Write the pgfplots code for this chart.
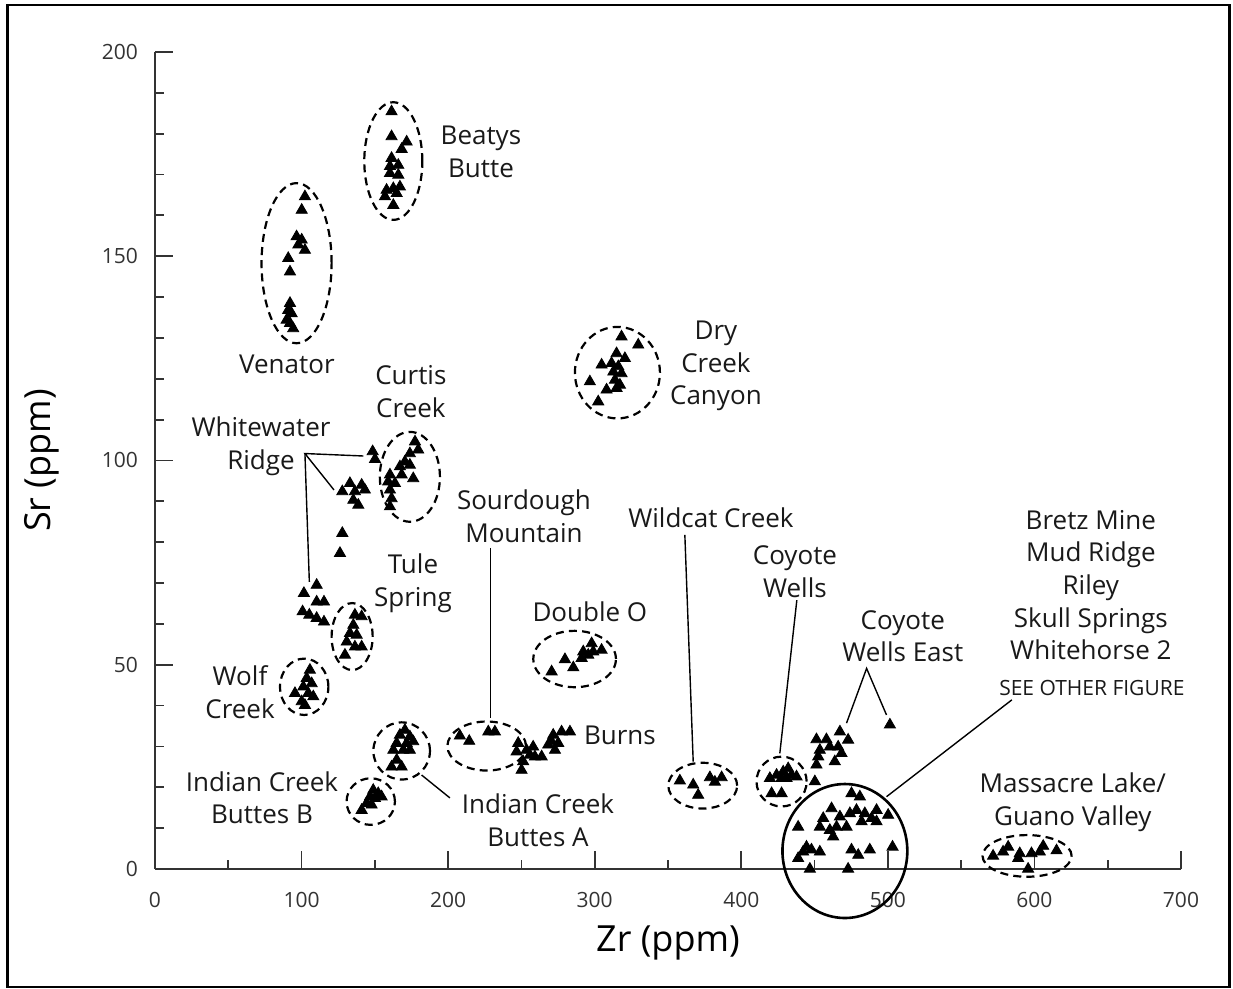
\documentclass[border=0pt]{standalone}
\usepackage{fontspec}
\setmainfont{Open Sans}
\usepackage{pgfplots}
\pgfplotsset{compat=1.18}

\tikzset{
  lab/.style={align=center, inner sep=0pt, text=black!90,
    font=\fontsize{13pt}{16.3pt}\selectfont},
  grp/.style={dashed, dash pattern=on 4pt off 2.6pt, line width=1.1pt},
  lead/.style={line width=0.7pt},
}
\pgfplotsset{tri/.style={only marks, mark=triangle*, mark size=3.2pt, black}}

\begin{document}
\begin{tikzpicture}
\useasboundingbox (-77.5pt,-60pt) rectangle (539pt,434.5pt);
\draw[line width=1.1pt] (-73.75pt,-59pt) rectangle (537.25pt,432pt);
\draw[line width=1.6pt] (-73.75pt,-59pt) -- (-73.75pt,432pt);
\begin{axis}[
    at={(0pt,0pt)}, anchor=origin,
    scale only axis, width=513pt, height=408.5pt,
    xmin=0, xmax=700, ymin=0, ymax=200,
    axis lines*=left, axis line style={line width=1pt, black!80},
    clip=false,
    xtick={0,100,...,700}, minor xtick={50,150,...,650},
    ytick={0,50,...,200}, minor ytick={0,10,...,200},
    tick align=inside, tick style={line width=0.9pt, black!80},
    major tick length=9pt, minor tick length=4.5pt,
    /pgf/number format/assume math mode=true,
    ticklabel style={font=\fontsize{10.5pt}{12pt}\selectfont, text=black!80},
    xticklabel style={yshift=-8pt},
    yticklabel style={xshift=-5pt},
    xlabel={Zr (ppm)}, ylabel={Sr (ppm)},
    every axis x label/.style={at={(axis cs:350,-18.1)}, anchor=center,
      font=\fontsize{18pt}{20pt}\selectfont},
    every axis y label/.style={at={(axis cs:-77,100)}, anchor=center, rotate=90,
      font=\fontsize{18pt}{20pt}\selectfont},
  ]

% Beatys Butte
\addplot[tri] table {
x y
161.4 185.4
161.4 179.3
171.7 178.0
168.3 176.2
161.4 174.0
160.3 172.0
166.0 172.3
160.3 170.3
166.0 169.9
158.0 166.2
162.6 166.6
167.1 167.0
156.9 164.6
162.6 162.5
164.9 165.4
};
% Venator
\addplot[tri] table {
x y
102.3 164.6
100.1 161.3
96.6 154.8
100.1 154.0
97.8 152.8
102.3 151.5
90.9 149.5
92.1 146.2
92.1 138.5
90.9 136.8
93.2 136.0
89.8 134.4
92.1 133.6
94.3 132.3
};
% Whitewater Ridge
\addplot[tri] table {
x y
148.5 102.2
150.1 100.3
127.8 92.4
133.0 94.4
136.4 92.4
141.0 94.0
143.2 92.8
135.3 90.3
138.7 89.1
127.8 82.2
126.2 77.3
110.3 69.5
101.6 67.5
110.3 65.4
115.3 65.4
100.7 63.0
105.3 62.2
110.3 61.4
115.3 60.5
};
% Curtis Creek
\addplot[tri] table {
x y
177.4 104.6
179.6 102.6
173.9 101.7
170.5 99.7
167.1 98.5
173.9 98.9
168.3 96.5
176.2 95.6
160.3 96.5
159.1 94.8
163.7 94.4
160.3 92.8
161.4 90.7
160.3 88.7
};
% Tule Spring
\addplot[tri] table {
x y
136.4 62.2
141.0 61.8
135.3 59.7
133.0 57.7
137.6 57.3
130.8 55.6
136.4 54.4
141.0 54.4
129.6 52.4
};
% Wolf Creek
\addplot[tri] table {
x y
105.7 48.7
103.5 46.7
106.9 45.4
101.2 44.6
95.5 43.0
104.6 43.0
108.0 42.2
100.1 41.0
102.3 40.1
};
% Dry Creek Canyon
\addplot[tri] table {
x y
318.3 130.3
329.7 128.3
314.9 126.2
320.6 125.0
304.7 123.4
311.5 123.8
316.1 123.0
312.7 121.7
318.3 121.3
296.7 119.3
313.8 119.7
317.2 118.5
308.1 117.3
314.9 117.7
302.4 114.4
};
% Double O
\addplot[tri] table {
x y
270.6 48.3
279.7 51.3
285.4 49.3
292.2 53.2
291.1 51.6
297.9 55.2
299.0 53.2
304.7 53.6
295.6 52.4
};
% Sourdough Mountain
\addplot[tri] table {
x y
208.0 32.6
214.4 31.3
227.4 33.6
231.9 33.6
};
% Burns
\addplot[tri] table {
x y
247.8 30.8
246.7 28.7
253.5 29.1
258.0 29.9
255.8 27.9
251.2 26.3
259.2 27.5
263.8 27.5
250.1 24.2
271.7 32.8
277.4 33.6
283.1 33.6
270.6 31.2
275.1 30.8
272.9 29.1
268.3 30.4
};
% Indian Creek Buttes A
\addplot[tri] table {
x y
170.5 34.0
167.1 32.8
173.9 32.4
164.9 30.8
171.7 30.8
176.2 31.2
162.6 29.1
169.4 29.1
173.9 29.1
164.9 26.7
161.4 25.0
168.3 25.0
};
% Indian Creek Buttes B
\addplot[tri] table {
x y
148.9 19.3
152.3 18.5
146.7 17.7
150.1 17.3
154.6 17.7
144.4 16.1
147.8 15.7
141.0 14.4
};
% Wildcat Creek
\addplot[tri] table {
x y
358.1 21.6
367.2 20.6
370.6 18.1
378.6 22.4
382.0 21.3
386.6 22.4
};
% Coyote Wells
\addplot[tri] table {
x y
419.5 22.2
424.1 23.0
428.6 23.8
432.0 24.6
434.3 23.0
437.7 22.6
427.5 22.2
430.9 22.2
420.7 18.5
427.5 18.5
};
% Coyote Wells East
\addplot[tri] table {
x y
467.3 33.6
451.3 31.7
458.1 31.7
472.9 31.6
460.4 29.9
466.1 29.9
453.6 29.1
468.4 28.3
452.5 27.5
451.3 25.5
463.8 26.3
450.2 21.4
501.4 35.3
};
% Bretz Mine, Mud Ridge, Riley, Skull Springs, Whitehorse 2
\addplot[tri] table {
x y
475.2 18.5
480.9 17.7
461.6 14.8
467.3 12.8
455.9 12.4
474.1 13.6
478.6 14.4
484.3 13.6
492.3 14.4
500.2 13.2
488.9 12.4
482.1 11.6
492.3 11.6
453.6 10.3
460.4 9.5
465.0 10.3
471.8 10.3
462.7 7.9
438.8 10.3
444.5 5.4
442.2 4.2
447.9 4.7
453.6 4.2
438.8 2.6
475.2 4.7
479.8 3.4
487.7 4.7
503.2 5.4
446.8 0.0
472.9 0.0
};
% Massacre Lake / Guano Valley
\addplot[tri] table {
x y
571.8 3.2
578.6 4.2
582.1 5.4
590.0 3.8
588.9 2.6
598.0 3.8
603.7 4.2
606.0 5.6
615.1 4.5
595.7 0.0
};

% group outlines
\draw[grp] (axis cs:162.6,173.3) ellipse [x radius=19.8, y radius=14.4];
\draw[grp] (axis cs:96.6,148.3) ellipse [x radius=23.9, y radius=19.6];
\draw[grp] (axis cs:173.9,96.0) ellipse [x radius=20.5, y radius=11.0];
\draw[grp] (axis cs:315.5,121.5) ellipse [x radius=29.0, y radius=11.2];
\draw[grp] (axis cs:134.5,56.9) ellipse [x radius=14.0, y radius=8.2];
\draw[grp] (axis cs:101.8,44.6) ellipse [x radius=16.5, y radius=6.9];
\draw[grp] (axis cs:286.3,51.4) ellipse [x radius=28.2, y radius=6.9];
\draw[grp] (axis cs:226.3,30.1) ellipse [x radius=26.8, y radius=6.0];
\draw[grp] (axis cs:168.3,28.9) ellipse [x radius=19.3, y radius=7.0];
\draw[grp] (axis cs:147.2,16.5) ellipse [x radius=16.5, y radius=5.7];
\draw[grp] (axis cs:373.7,20.4) ellipse [x radius=23.5, y radius=5.6];
\draw[grp] (axis cs:427.5,21.4) ellipse [x radius=17.1, y radius=6.1];
\draw[grp] (axis cs:595.0,3.2) ellipse [x radius=30.4, y radius=5.1];
\draw[line width=1.3pt] (axis cs:470.7,4.4) ellipse [x radius=42.6, y radius=16.4];

% leader lines
\draw[lead] (axis cs:142.1,101.1) -- (axis cs:102.3,101.7) -- (axis cs:122.1,92.8);
\draw[lead] (axis cs:102.3,101.7) -- (axis cs:105.3,70.3);
\draw[lead] (axis cs:228.9,78.6) -- (axis cs:228.9,37.0);
\draw[lead] (axis cs:181.9,23.0) -- (axis cs:201.2,17.4);
\draw[lead] (axis cs:361.5,81.8) -- (axis cs:367.2,26.3);
\draw[lead] (axis cs:437.9,65.8) -- (axis cs:426.3,28.3);
\draw[lead] (axis cs:471.8,35.7) -- (axis cs:485.5,49.1) -- (axis cs:499.1,37.7);
\draw[lead] (axis cs:499.1,17.7) -- (axis cs:584.6,41.4);

% labels
\node[lab] at (axis cs:222.4,175.5) {Beatys\\Butte};
\node[lab] at (axis cs:90.0,123.6) {Venator};
\node[lab] at (axis cs:174.6,116.8) {Curtis\\Creek};
\node[lab] at (axis cs:382.7,123.1) {Dry\\Creek\\Canyon};
\node[lab] at (axis cs:72.3,103.5) {Whitewater\\Ridge};
\node[lab] at (axis cs:251.7,86.4) {Sourdough\\Mountain};
\node[lab] at (axis cs:379.3,85.9) {Wildcat Creek};
\node[lab] at (axis cs:176.0,70.0) {Tule\\Spring};
\node[lab] at (axis cs:436.6,72.7) {Coyote\\Wells};
\node[lab] at (axis cs:296.7,62.9) {Double O};
\node[lab] at (axis cs:510.2,57.0) {Coyote\\Wells East};
\node[lab] at (axis cs:638.5,69.5) {Bretz Mine\\Mud Ridge\\Riley\\Skull Springs\\Whitehorse 2};
\node[lab, font=\fontsize{10.5pt}{12pt}\selectfont] at (axis cs:639.2,44.3) {SEE OTHER FIGURE};
\node[lab] at (axis cs:58.0,43.3) {Wolf\\Creek};
\node[lab] at (axis cs:317.2,32.8) {Burns};
\node[lab] at (axis cs:73.0,17.4) {Indian Creek\\Buttes B};
\node[lab] at (axis cs:261.3,12.0) {Indian Creek\\Buttes A};
\node[lab] at (axis cs:626.2,16.4) {Massacre Lake/\\Guano Valley};
\end{axis}
\end{tikzpicture}
\end{document}
